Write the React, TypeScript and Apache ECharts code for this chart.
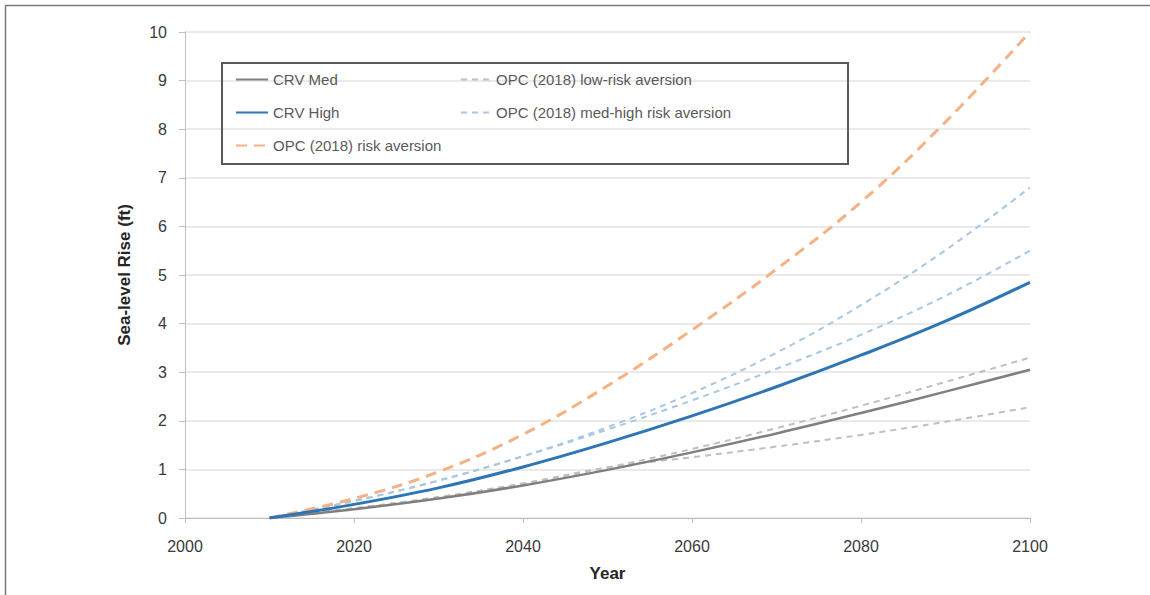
import React, { useEffect, useRef } from "react";
import * as echarts from "echarts";

const years = [2010, 2020, 2030, 2040, 2050, 2060, 2070, 2080, 2090, 2100];
const crvMed = [0, 0.18, 0.4, 0.67, 0.99, 1.35, 1.74, 2.16, 2.6, 3.05];
const crvHigh = [0, 0.28, 0.62, 1.05, 1.55, 2.1, 2.7, 3.35, 4.05, 4.85];
const opcRiskAversion = [0, 0.4, 0.95, 1.72, 2.72, 3.87, 5.12, 6.5, 8.15, 10.0];
const opcLowHigh = [0, 0.2, 0.43, 0.71, 1.04, 1.42, 1.85, 2.31, 2.8, 3.3];
const opcLowLow = [0, 0.2, 0.43, 0.71, 1.04, 1.25, 1.47, 1.71, 1.98, 2.28];
const opcMedHighHigh = [0, 0.35, 0.77, 1.27, 1.87, 2.57, 3.4, 4.38, 5.51, 6.8];
const opcMedHighLow = [0, 0.35, 0.77, 1.27, 1.82, 2.42, 3.07, 3.77, 4.57, 5.5];

const xTicks = [2000, 2020, 2040, 2060, 2080, 2100];

const NAME_MED = "CRV Med";
const NAME_HIGH = "CRV High";
const NAME_RA = "OPC (2018) risk aversion";
const NAME_LOW = "OPC (2018) low-risk aversion";
const NAME_MH = "OPC (2018) med-high risk aversion";

const pairs = (vals: number[]) => years.map((y, i) => [y, vals[i]]);

export default function App() {
  const ref = useRef<HTMLDivElement>(null);
  useEffect(() => {
    if (!ref.current) return;
    const chart = echarts.init(ref.current, null, { renderer: "svg" });
    const font = "Liberation Sans, Arial, sans-serif";
    const legendText = { color: "#595959", fontSize: 15, fontFamily: font };
    const mk = (name: string, vals: number[], color: string, width: number, type: any, z = 2) => ({
      name,
      type: "line",
      data: pairs(vals),
      smooth: 0.4,
      symbol: "none",
      z,
      lineStyle: { color, width, type },
      itemStyle: { color },
    });
    const legendBase = {
      orient: "vertical",
      top: 72,
      itemHeight: 14,
      itemGap: 18,
      padding: 0,
      textStyle: legendText,
      selectedMode: false,
      itemStyle: { opacity: 0 },
    };
    chart.setOption({
      animation: false,
      backgroundColor: "#ffffff",
      grid: { left: 185, right: 120, top: 32, bottom: 77, containLabel: false },
      xAxis: {
        type: "value",
        min: 2000,
        max: 2100,
        interval: 20,
        name: "Year",
        nameLocation: "middle",
        nameGap: 47,
        nameTextStyle: { fontSize: 17, fontWeight: "bold", color: "#262626", fontFamily: font },
        axisLine: { show: true, lineStyle: { color: "#bfbfbf", width: 1 } },
        axisTick: { show: true, length: 5, lineStyle: { color: "#bfbfbf" } },
        axisLabel: {
          fontSize: 16,
          color: "#3a3a3a",
          fontFamily: font,
          margin: 20,
          formatter: (v: number) => (xTicks.includes(v) ? String(v) : ""),
        },
        splitLine: { show: false },
      },
      yAxis: {
        type: "value",
        min: 0,
        max: 10,
        interval: 1,
        name: "Sea-level Rise (ft)",
        nameLocation: "middle",
        nameGap: 52,
        nameTextStyle: { fontSize: 17, fontWeight: "bold", color: "#262626", fontFamily: font },
        axisLine: { show: true, lineStyle: { color: "#bfbfbf", width: 1 } },
        axisTick: { show: true, length: 6, lineStyle: { color: "#bfbfbf" } },
        axisLabel: { fontSize: 16, color: "#3a3a3a", fontFamily: font, margin: 18 },
        splitLine: { show: true, lineStyle: { color: "#e3e3e3", width: 1.5 } },
      },
      legend: [
        { ...legendBase, data: [NAME_MED, NAME_HIGH, NAME_RA], left: 235, itemWidth: 32 },
        { ...legendBase, data: [NAME_LOW, NAME_MH], left: 460, itemWidth: 30 },
      ],
      graphic: [
        {
          type: "rect",
          shape: { x: 5.5, y: 5.5, width: 1300, height: 800 },
          style: { fill: "none", stroke: "#7a7a7a", lineWidth: 1.5 },
          silent: true,
          z: -1,
        },
        {
          type: "rect",
          shape: { x: 222, y: 63, width: 626, height: 101 },
          style: { fill: "none", stroke: "#595959", lineWidth: 2 },
          silent: true,
          z: 100,
        },
      ],
      series: [
        mk(NAME_LOW, opcLowHigh, "#bfbfbf", 2, [6, 5], 1),
        mk(NAME_LOW, opcLowLow, "#bfbfbf", 2, [6, 5], 1),
        mk(NAME_MH, opcMedHighHigh, "#a9c6e2", 2, [6, 5], 1),
        mk(NAME_MH, opcMedHighLow, "#a9c6e2", 2, [6, 5], 1),
        mk(NAME_RA, opcRiskAversion, "#f4b183", 3, [11, 7], 2),
        mk(NAME_MED, crvMed, "#7f7f7f", 2.5, "solid", 3),
        mk(NAME_HIGH, crvHigh, "#2e75b6", 3, "solid", 3),
      ],
    });
    return () => chart.dispose();
  }, []);
  return (
    <div
      ref={ref}
      style={{ position: "fixed", left: 0, top: 0, width: 1150, height: 595, background: "#fff" }}
    />
  );
}
